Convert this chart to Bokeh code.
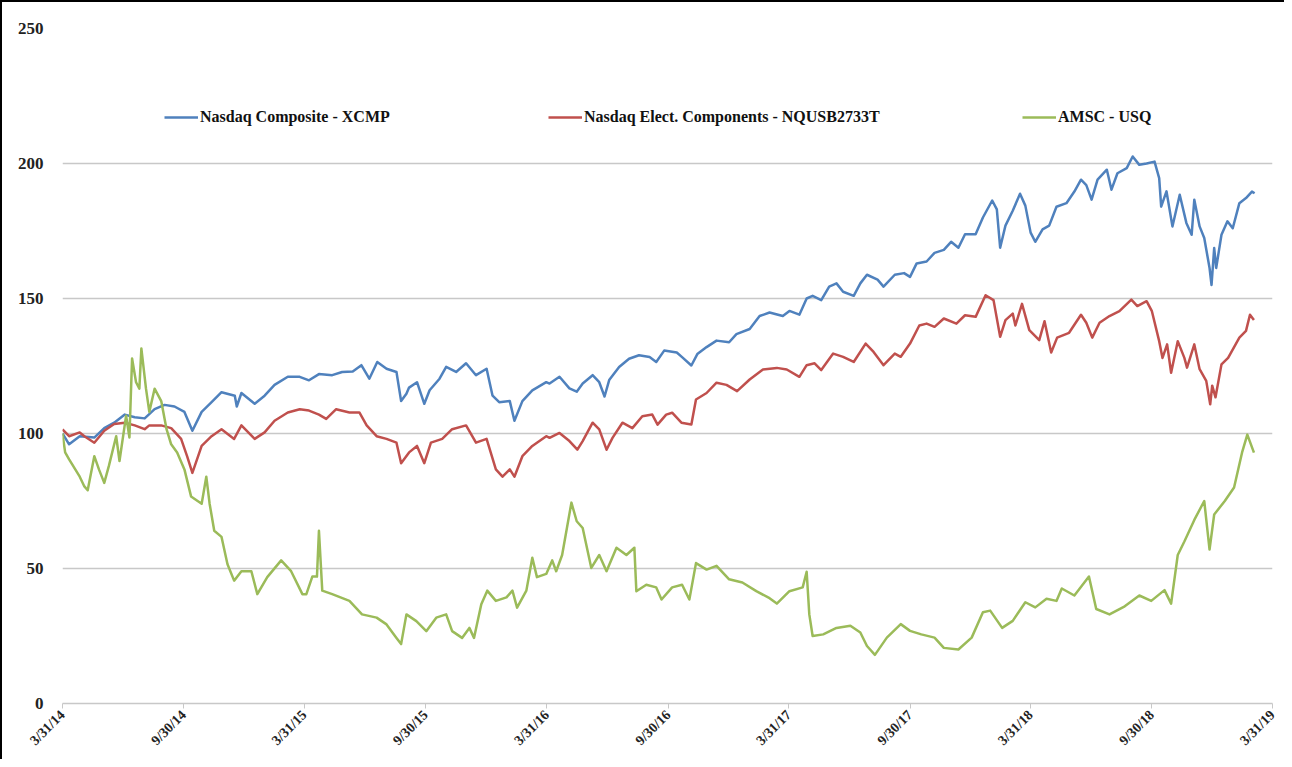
import pandas as pd
from math import pi
from bokeh.plotting import figure
from bokeh.models import Range1d, FixedTicker, Legend, LegendItem
from bokeh.embed import file_html
from bokeh.resources import INLINE

# ---------------- data (indexed to 100 at 3/31/14) ----------------
xcmp_dates = ["2014-03-31","2014-04-10","2014-04-26","2014-05-18","2014-06-02","2014-06-17","2014-07-03","2014-07-18",
    "2014-08-02","2014-08-17","2014-09-01","2014-09-16","2014-10-01","2014-10-13","2014-10-27","2014-11-11","2014-11-26",
    "2014-12-16","2014-12-19","2014-12-26","2015-01-15","2015-01-30","2015-02-14","2015-03-06","2015-03-24","2015-04-07",
    "2015-04-22","2015-05-12","2015-05-27","2015-06-12","2015-06-25","2015-07-07","2015-07-19","2015-08-02","2015-08-17",
    "2015-08-24","2015-09-01","2015-09-05","2015-09-17","2015-09-28","2015-10-06","2015-10-21","2015-10-31","2015-11-15",
    "2015-11-30","2015-12-15","2015-12-31","2016-01-09","2016-01-19","2016-02-04","2016-02-11","2016-02-23","2016-03-09",
    "2016-03-30","2016-04-04","2016-04-19","2016-05-04","2016-05-15","2016-05-24","2016-06-08","2016-06-18","2016-06-26",
    "2016-07-03","2016-07-18","2016-08-02","2016-08-17","2016-09-02","2016-09-12","2016-09-24","2016-10-13","2016-10-21",
    "2016-11-04","2016-11-13","2016-11-27","2016-12-12","2016-12-31","2017-01-11","2017-01-31","2017-02-15","2017-03-02",
    "2017-03-22","2017-04-01","2017-04-16","2017-04-27","2017-05-06","2017-05-19","2017-05-31","2017-06-11","2017-06-21",
    "2017-07-07","2017-07-17","2017-07-27","2017-08-12","2017-08-21","2017-09-07","2017-09-21","2017-09-30","2017-10-10",
    "2017-10-25","2017-11-06","2017-11-20","2017-12-01","2017-12-12","2017-12-22","2018-01-07","2018-01-18","2018-02-01",
    "2018-02-08","2018-02-13","2018-02-21","2018-03-04","2018-03-15","2018-03-23","2018-03-31","2018-04-07","2018-04-18",
    "2018-04-28","2018-05-09","2018-05-24","2018-06-05","2018-06-15","2018-06-23","2018-07-01","2018-07-10","2018-07-24",
    "2018-07-31","2018-08-09","2018-08-23","2018-09-01","2018-09-11","2018-09-22","2018-10-04","2018-10-11","2018-10-14",
    "2018-10-22","2018-10-31","2018-11-11","2018-11-21","2018-11-29","2018-12-03","2018-12-11","2018-12-18","2018-12-26",
    "2018-12-29","2019-01-02","2019-01-05","2019-01-13","2019-01-22","2019-01-30","2019-02-09","2019-02-19","2019-02-28",
    "2019-03-04"]
xcmp_vals = [100,96,99,98.5,102,104,107,106,105.6,109,110.6,110,108,101,108,111.6,115.3,114,110,115,111,114,118,121,121,
    119.7,122,121.6,122.8,123,125.3,120.3,126.5,124,122.8,112,114.7,117,119,111,116,120.3,124.7,122.8,126,121.6,124,114,
    111.6,112,104.7,112,116,119,118.5,121,116.7,115.5,118.5,121.6,119,113.7,119.8,124.6,127.7,129,128.3,126.5,130.7,130,
    128.3,125.2,129.4,132,134.4,133.8,136.8,138.7,143.5,144.8,143.5,145.4,144,150,151,149.4,154.4,155.6,152.5,151,155.6,
    158.8,157,154.4,158.8,159.4,158,163,163.7,166.9,168,171,168.8,173.8,173.8,180,186.3,183,168.8,177,182.5,188.8,184.4,
    174.4,171,175.6,177,184,185.3,189.6,194,192,186.6,194,197.7,190.3,196.4,198.3,202.6,199.5,200,200.7,194.6,184,189.7,
    176.7,188.4,178,173.6,186.6,176.7,172.4,161.3,155,168.7,161.3,173.6,178.6,176,185.3,187.2,189.6,189]

elec_dates = ["2014-03-31","2014-04-10","2014-04-26","2014-05-03","2014-05-18","2014-06-02","2014-06-17","2014-07-03",
    "2014-07-18","2014-08-02","2014-08-09","2014-08-27","2014-09-11","2014-09-26","2014-10-05","2014-10-13","2014-10-27",
    "2014-11-11","2014-11-26","2014-12-15","2014-12-26","2015-01-15","2015-01-30","2015-02-14","2015-03-06","2015-03-24",
    "2015-04-07","2015-04-22","2015-05-03","2015-05-18","2015-06-07","2015-06-22","2015-07-03","2015-07-18","2015-08-02",
    "2015-08-17","2015-08-24","2015-09-05","2015-09-17","2015-09-28","2015-10-08","2015-10-25","2015-11-09","2015-11-30",
    "2015-12-15","2015-12-31","2016-01-14","2016-01-24","2016-02-04","2016-02-11","2016-02-23","2016-03-09","2016-03-30",
    "2016-04-04","2016-04-19","2016-05-04","2016-05-16","2016-05-24","2016-06-08","2016-06-18","2016-06-29","2016-07-08",
    "2016-07-23","2016-08-07","2016-08-22","2016-09-06","2016-09-14","2016-09-27","2016-10-06","2016-10-20","2016-11-04",
    "2016-11-11","2016-11-27","2016-12-12","2016-12-27","2017-01-12","2017-01-31","2017-02-20","2017-03-13","2017-03-28",
    "2017-04-16","2017-04-27","2017-05-09","2017-05-19","2017-06-06","2017-06-21","2017-07-07","2017-07-25","2017-08-06",
    "2017-08-21","2017-09-07","2017-09-16","2017-09-30","2017-10-14","2017-10-25","2017-11-06","2017-11-20","2017-12-09",
    "2017-12-22","2018-01-07","2018-01-22","2018-02-03","2018-02-13","2018-02-21","2018-03-04","2018-03-08","2018-03-18",
    "2018-03-29","2018-04-13","2018-04-21","2018-05-01","2018-05-10","2018-05-28","2018-06-15","2018-06-23","2018-07-02",
    "2018-07-13","2018-07-28","2018-08-12","2018-08-30","2018-09-08","2018-09-22","2018-09-30","2018-10-11","2018-10-16",
    "2018-10-23","2018-10-29","2018-11-08","2018-11-18","2018-11-22","2018-12-03","2018-12-11","2018-12-21","2018-12-27",
    "2018-12-30","2019-01-04","2019-01-13","2019-01-23","2019-02-09","2019-02-19","2019-02-25","2019-03-03"]
elec_vals = [101.5,99,100.4,99,96.6,101,103.5,104,103,101.6,103,103,102,98,91.6,85.4,95.4,99,101.6,98,103,98,100.4,104.7,
    107.8,109,108.5,107,105.4,109,107.8,107.8,103,99,98,96.6,89,93,95.4,89,96.6,98,101.6,103,96.6,98,86.7,84,86.7,84,91.6,
    95.4,99,98.4,100.2,97.2,94,97.2,104,101.5,94,98.4,104,102,106.4,107,103.3,107,107.7,104,103.3,112.6,115,118.8,118,115.7,
    120,123.7,124.3,123.7,121,125.3,126,123.5,129.6,128.4,126.5,133.3,130.2,125.3,129.6,128.4,133.3,140,140.7,139.5,142.6,
    140.7,143.8,143.2,151.2,149.4,135.8,142,144.4,140,148,138.3,134.6,141.6,130,135.5,137.3,144,141,135.5,141,143.5,145.3,
    149.6,147.2,149,145.3,134.2,128,133,122.5,134.2,128,124.4,133,123.8,119.5,110.8,117.7,113.4,125.6,128,135.5,138,144,142]

amsc_dates = ["2014-03-31","2014-04-04","2014-04-10","2014-04-26","2014-05-03","2014-05-08","2014-05-18","2014-05-25",
    "2014-06-02","2014-06-09","2014-06-20","2014-06-25","2014-07-05","2014-07-10","2014-07-14","2014-07-20","2014-07-25",
    "2014-07-28","2014-08-04","2014-08-09","2014-08-17","2014-08-27","2014-09-04","2014-09-11","2014-09-20","2014-10-01",
    "2014-10-11","2014-10-27","2014-11-03","2014-11-08","2014-11-15","2014-11-26","2014-12-05","2014-12-15","2014-12-26",
    "2015-01-10","2015-01-19","2015-02-03","2015-02-24","2015-03-11","2015-03-28","2015-04-03","2015-04-12","2015-04-19",
    "2015-04-22","2015-04-27","2015-05-12","2015-06-07","2015-06-26","2015-07-18","2015-08-02","2015-08-17","2015-08-24",
    "2015-09-01","2015-09-16","2015-10-01","2015-10-16","2015-10-31","2015-11-09","2015-11-24","2015-12-05","2015-12-12",
    "2015-12-23","2016-01-01","2016-01-14","2016-01-30","2016-02-08","2016-02-15","2016-02-29","2016-03-09","2016-03-16",
    "2016-03-30","2016-04-08","2016-04-14","2016-04-23","2016-05-07","2016-05-15","2016-05-24","2016-06-06","2016-06-18",
    "2016-06-29","2016-07-14","2016-07-29","2016-08-10","2016-08-13","2016-08-28","2016-09-12","2016-09-20","2016-10-06",
    "2016-10-21","2016-11-01","2016-11-11","2016-11-27","2016-12-12","2016-12-31","2017-01-20","2017-02-10","2017-03-02",
    "2017-03-13","2017-04-01","2017-04-21","2017-04-27","2017-05-01","2017-05-06","2017-05-22","2017-06-11","2017-07-02",
    "2017-07-17","2017-07-27","2017-08-08","2017-08-26","2017-09-16","2017-09-30","2017-10-17","2017-11-06","2017-11-20",
    "2017-12-12","2018-01-01","2018-01-18","2018-01-29","2018-02-16","2018-03-04","2018-03-23","2018-04-07","2018-04-24",
    "2018-05-09","2018-05-17","2018-06-05","2018-06-27","2018-07-08","2018-07-28","2018-08-20","2018-09-11","2018-09-29",
    "2018-10-19","2018-10-29","2018-11-08","2018-11-18","2018-12-03","2018-12-18","2018-12-26","2019-01-02","2019-01-18",
    "2019-02-01","2019-02-13","2019-02-21","2019-03-03"]
amsc_vals = [100,93,90.4,84,80.4,79,91.6,86.7,81.7,88,99,89.8,106.6,98.5,127.8,119,116.6,131.5,116.6,108,116.6,112,101.6,
    96,93,86.7,76.7,74,84,74,64,61.7,51.6,45.5,49,49,40.5,46.8,53,49,40.5,40.5,47,47,64,41.8,40.5,38,33,31.8,29.3,24.3,22,
    33,30.5,26.8,31.8,33,26.8,24.3,28,24.3,36.8,41.8,38,39.3,41.8,35.5,41.8,54,46.8,48,53,49,55,74.4,67.5,65,50.2,55,49,
    57.7,55,57.7,41.6,44,43,38.5,43,44,38.5,52,49.6,51,46,44.8,41.6,39,37,41.6,43,48.8,33,25,25.6,28,28.8,26.3,21.3,18,
    24.4,29.4,26.9,25.6,24.4,20.6,20,24.4,33.8,34.4,28,30.6,37.5,35.6,38.8,38,42.6,40,47,35,33,36,40,38,42,37,55,60,68,
    75,57,70,75,80,92.9,99.6,92.9]

tick_dates = ["2014-03-31","2014-09-30","2015-03-31","2015-09-30","2016-03-31","2016-09-30",
              "2017-03-31","2017-09-30","2018-03-31","2018-09-30","2019-03-31"]
tick_labels = ["3/31/14","9/30/14","3/31/15","9/30/15","3/31/16","9/30/16",
               "3/31/17","9/30/17","3/31/18","9/30/18","3/31/19"]

series_names = ["Nasdaq Composite - XCMP", "Nasdaq Elect. Components - NQUSB2733T", "AMSC - USQ"]
series_colors = ["#4F81BD", "#C0504D", "#9BBB59"]

# ---------------- figure ----------------
def ms(d):
    return pd.Timestamp(d).value / 1e6

tick_ms = [ms(d) for d in tick_dates]

p = figure(width=1284, height=759, x_axis_type="datetime", output_backend="svg",
           toolbar_location=None, min_border_left=60, min_border_right=14,
           min_border_top=26, min_border_bottom=58,
           x_range=Range1d(tick_ms[0], tick_ms[-1]), y_range=Range1d(0, 250))
p.styles = {"border-top": "2px solid #000", "border-left": "2px solid #000"}
p.outline_line_color = None
p.background_fill_color = "white"
p.border_fill_color = "white"

p.xgrid.grid_line_color = None
p.ygrid.grid_line_color = "#C8C8C8"
p.ygrid.grid_line_width = 1.5
p.yaxis.ticker = FixedTicker(ticks=[0, 50, 100, 150, 200, 250])
p.yaxis.axis_line_color = None
p.yaxis.major_tick_line_color = None
p.yaxis.minor_tick_line_color = None
p.yaxis.major_label_standoff = 13
p.yaxis.major_label_text_font = "Liberation Serif"
p.yaxis.major_label_text_font_style = "bold"
p.yaxis.major_label_text_font_size = "17px"
p.yaxis.major_label_text_color = "#222222"

p.xaxis.ticker = FixedTicker(ticks=tick_ms)
p.xaxis.major_label_overrides = {t: lab for t, lab in zip(tick_ms, tick_labels)}
p.xaxis.axis_line_color = "#C8C8C8"
p.xaxis.axis_line_width = 1.5
p.xaxis.major_tick_line_color = "#C8C8C8"
p.xaxis.major_tick_in = 0
p.xaxis.major_tick_out = 5
p.xaxis.minor_tick_line_color = None
p.xaxis.major_label_orientation = pi / 4
p.xaxis.major_label_standoff = 4
p.xaxis.major_label_text_font = "Liberation Serif"
p.xaxis.major_label_text_font_style = "bold"
p.xaxis.major_label_text_font_size = "14px"
p.xaxis.major_label_text_color = "#222222"

renderers = []
for dates, vals, color in [(xcmp_dates, xcmp_vals, series_colors[0]),
                           (elec_dates, elec_vals, series_colors[1]),
                           (amsc_dates, amsc_vals, series_colors[2])]:
    r = p.line(pd.to_datetime(dates), vals, line_color=color, line_width=2.5, line_join="round")
    renderers.append(r)

legend_x = [102, 486, 960]
for name, r, lx in zip(series_names, renderers, legend_x):
    lg = Legend(items=[LegendItem(label=name, renderers=[r])], location=(lx, 577),
                orientation="horizontal", padding=0, margin=0, spacing=0,
                glyph_width=34, glyph_height=18, label_height=18, label_standoff=2,
                border_line_color=None, background_fill_alpha=0,
                label_text_font="Liberation Serif", label_text_font_style="bold",
                label_text_font_size="16px", label_text_color="#111111")
    p.add_layout(lg, "center")

open("out.html", "w").write(file_html(p, INLINE))
